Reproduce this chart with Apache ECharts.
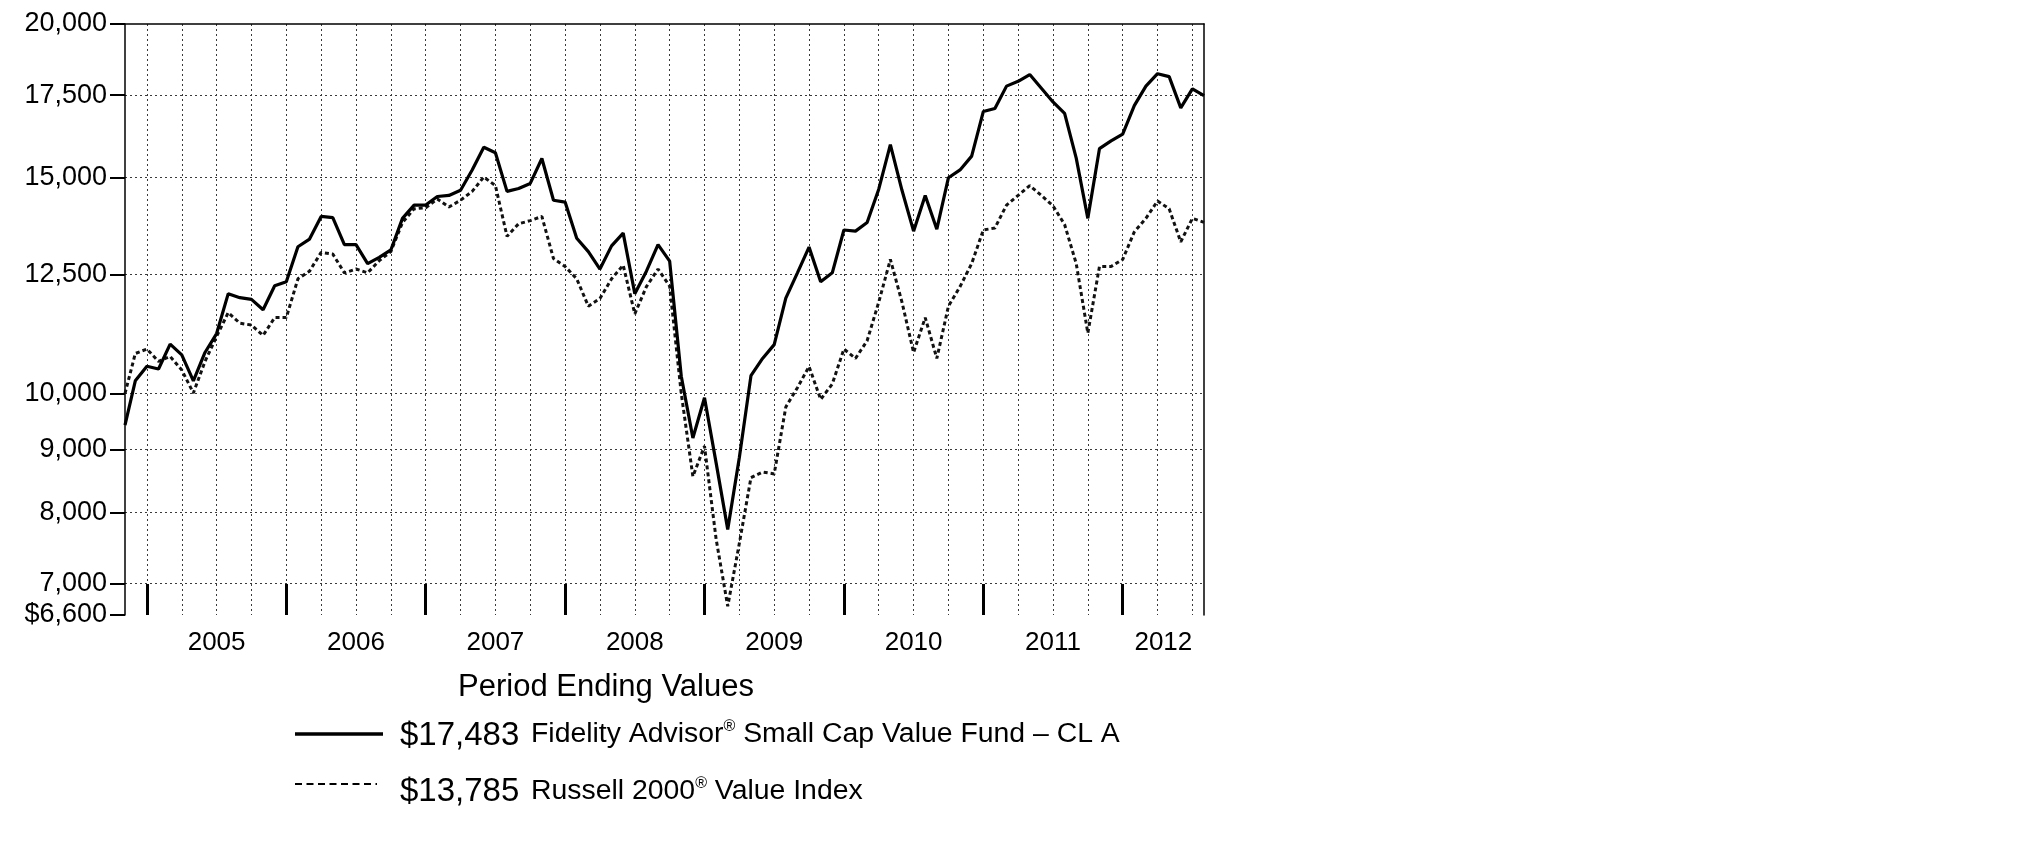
<!DOCTYPE html>
<html><head><meta charset="utf-8">
<script src="https://cdn.jsdelivr.net/npm/echarts@6/dist/echarts.min.js"></script>
<style>html,body{margin:0;padding:0;background:#fff}#c{width:2025px;height:851px}</style>
</head><body><div id="c"></div>
<script>
// ---- data ----
const inceptionDate = '2004-11-03';
const firstMonthEnd = '2004-11-30';   // then monthly month-ends through Jul 2012
const fundName = 'Fidelity Advisor';
const fundName2 = ' Small Cap Value Fund – CL A';
const indexName = 'Russell 2000';
const indexName2 = ' Value Index';
const legendTitle = 'Period Ending Values';

// first value = inception, then month-ends Nov 2004 ... Jul 2012
const fundValues = [9425,
  10240, 10525,
  10470, 10970, 10750, 10240, 10800, 11190, 12060, 11970, 11930, 11700, 12240, 12330,
  13170, 13360, 13940, 13910, 13220, 13220, 12760, 12910, 13090, 13890, 14240, 14240,
  14470, 14500, 14640, 15210, 15870, 15710, 14610, 14690, 14830, 15540, 14370, 14320,
  13380, 13050, 12630, 13190, 13510, 12060, 12580, 13220, 12820, 10330, 9200, 9920,
  8780, 7750, 8870, 10340, 10680, 10960, 11960, 12540, 13160, 12330, 12540, 13590,
  13560, 13780, 14670, 15950, 14640, 13560, 14500, 13610, 14990, 15210, 15610, 16970,
  17070, 17800, 17960, 18190, 17730, 17280, 16910, 15550, 13890, 15830, 16060, 16270,
  17160, 17800, 18220, 18120, 17090, 17710, 17483];

const indexValues = [10000,
  10780, 10870,
  10620, 10720, 10450, 10010, 10620, 11130, 11640, 11410, 11370, 11150, 11530, 11530,
  12400, 12580, 13030, 12990, 12540, 12630, 12540, 12830, 13050, 13780, 14140, 14170,
  14400, 14190, 14370, 14610, 15010, 14770, 13430, 13750, 13830, 13940, 12880, 12690,
  12400, 11780, 11950, 12400, 12720, 11610, 12220, 12630, 12230, 10000, 8560, 9060,
  7610, 6710, 7550, 8540, 8630, 8600, 9750, 10110, 10520, 9890, 10180, 10870,
  10680, 11040, 11870, 12860, 11870, 10800, 11530, 10680, 11780, 12220, 12760, 13590,
  13640, 14240, 14500, 14770, 14500, 14220, 13730, 12760, 11200, 12690, 12690, 12860,
  13540, 13890, 14350, 14140, 13290, 13890, 13785];

const yearLabels = ['2005', '2006', '2007', '2008', '2009', '2010', '2011', '2012'];
const yTickValues = [6600, 7000, 8000, 9000, 10000, 12500, 15000, 17500, 20000];
const yGridValues = [7000, 8000, 9000, 10000, 12500, 15000, 17500];

// ---- build ----
// x: months, 0 = Dec 31 2004 (start of 2005)
const dayMs = 86400000;
const incOffset = (new Date(firstMonthEnd) - new Date(inceptionDate)) / dayMs / 30.44;
const xOf = i => i === 0 ? -1 - incOffset : i - 2;
const xMin = xOf(0);
const xMax = xOf(fundValues.length - 1);
const lg = v => Math.log10(v);
const fundData = fundValues.map((v, i) => [xOf(i), lg(v)]);
const indexData = indexValues.map((v, i) => [xOf(i), lg(v)]);

const quarterTicks = [];
for (let q = 0; q <= xMax; q += 3) quarterTicks.push(q);
const yearTicks = yearLabels.map((y, k) => 12 * k);
const yearLabelPos = yearLabels.map((y, k) => (12 * k + Math.min(12 * k + 12, xMax)) / 2);

const yMin = lg(yTickValues[0]), yMax = lg(yTickValues[yTickValues.length - 1]);
const FONT = '"Liberation Sans", Arial, Helvetica, sans-serif';
const fmtNum = n => n.toLocaleString('en-US');

const chart = echarts.init(document.getElementById('c'), null, {renderer: 'canvas'});
const gridStyle = {color: '#3a3a3a', width: 1, type: [2, 3]};

chart.setOption({
  animation: false,
  backgroundColor: '#fff',
  grid: {left: 125, right: 821, top: 24, bottom: 236, containLabel: false},
  xAxis: [
    {type: 'value', min: xMin, max: xMax, position: 'bottom',
      axisLine: {show: false, onZero: false}, axisTick: {show: false, customValues: quarterTicks},
      axisLabel: {show: false}, splitLine: {show: true, lineStyle: gridStyle}},
    {type: 'value', min: xMin, max: xMax, position: 'bottom',
      axisLine: {show: false, onZero: false},
      axisTick: {show: true, inside: true, length: 31, customValues: yearTicks,
        lineStyle: {color: '#000', width: 3}},
      axisLabel: {show: true, customValues: yearLabelPos, margin: 15,
        fontSize: 26, fontFamily: FONT, color: '#000',
        formatter: v => {
          let best = 0, d = 1e9;
          yearLabelPos.forEach((p, k) => { if (Math.abs(p - v) < d) { d = Math.abs(p - v); best = k; } });
          return yearLabels[best];
        }},
      splitLine: {show: false}},
    {type: 'value', min: xMin, max: xMax, position: 'top',
      axisLine: {show: true, onZero: false, lineStyle: {color: '#000', width: 1.5}},
      axisTick: {show: false}, axisLabel: {show: false}, splitLine: {show: false}}
  ],
  yAxis: [
    {type: 'value', min: yMin, max: yMax, position: 'left',
      axisLine: {show: true, onZero: false, lineStyle: {color: '#000', width: 1.5}},
      axisTick: {show: true, length: 15, customValues: yTickValues.map(lg),
        lineStyle: {color: '#000', width: 2}},
      axisLabel: {show: true, customValues: yTickValues.map(lg), margin: 18,
        fontSize: 27, fontFamily: FONT, color: '#000',
        formatter: v => {
          let best = 0, d = 1e9;
          yTickValues.forEach((t, k) => { const dd = Math.abs(lg(t) - v); if (dd < d) { d = dd; best = k; } });
          const n = yTickValues[best];
          return (best === 0 ? '$' : '') + fmtNum(n);
        }},
      splitLine: {show: false}},
    {type: 'value', min: yMin, max: yMax, position: 'right',
      axisLine: {show: true, onZero: false, lineStyle: {color: '#000', width: 1.5}},
      axisTick: {show: false, customValues: yGridValues.map(lg)},
      axisLabel: {show: false},
      splitLine: {show: true, lineStyle: gridStyle}}
  ],
  series: [
    {name: 'index', type: 'line', data: indexData, symbol: 'none', xAxisIndex: 0, yAxisIndex: 0,
      lineStyle: {color: '#111', width: 3, type: [4, 3]}, z: 3},
    {name: 'fund', type: 'line', data: fundData, symbol: 'none', xAxisIndex: 0, yAxisIndex: 0,
      lineStyle: {color: '#000', width: 3.2}, z: 4}
  ],
  graphic: [
    {type: 'text', x: 606, y: 687, style: {text: legendTitle, font: '31px ' + FONT, fill: '#000', align: 'center', verticalAlign: 'middle'}},
    {type: 'line', shape: {x1: 295, y1: 734, x2: 383, y2: 734}, style: {stroke: '#000', lineWidth: 3.3}},
    {type: 'text', x: 400, y: 736, style: {text: '$' + fmtNum(fundValues[fundValues.length - 1]), font: '33px ' + FONT, fill: '#000', align: 'left', verticalAlign: 'middle'}},
    {type: 'text', x: 531, y: 734, style: {
      text: '{a|' + fundName + '}{s|®}{a|' + fundName2 + '}',
      align: 'left', verticalAlign: 'middle',
      rich: {a: {font: '28.4px ' + FONT, fill: '#000', lineHeight: 30}, s: {font: '16px ' + FONT, fill: '#000', lineHeight: 16, verticalAlign: 'top'}}}},
    {type: 'line', shape: {x1: 295, y1: 784, x2: 377, y2: 784}, style: {stroke: '#000', lineWidth: 2, lineDash: [7, 4.5]}},
    {type: 'text', x: 400, y: 792, style: {text: '$' + fmtNum(indexValues[indexValues.length - 1]), font: '33px ' + FONT, fill: '#000', align: 'left', verticalAlign: 'middle'}},
    {type: 'text', x: 531, y: 791, style: {
      text: '{a|' + indexName + '}{s|®}{a|' + indexName2 + '}',
      align: 'left', verticalAlign: 'middle',
      rich: {a: {font: '28.4px ' + FONT, fill: '#000', lineHeight: 30}, s: {font: '16px ' + FONT, fill: '#000', lineHeight: 16, verticalAlign: 'top'}}}}
  ]
});
</script>
</body></html>
